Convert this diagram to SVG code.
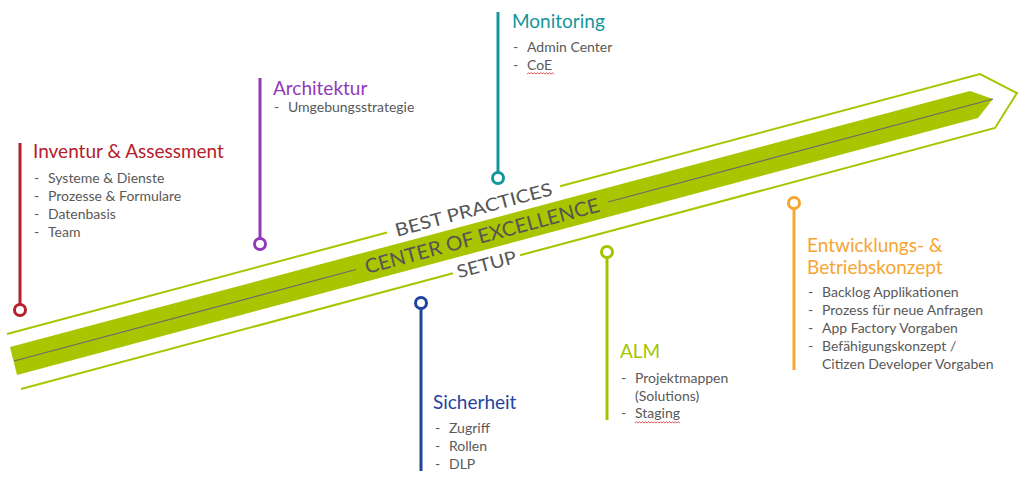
<svg xmlns="http://www.w3.org/2000/svg" width="1024" height="477" viewBox="0 0 1024 477">
<style>
.title{font-family:Lato,"Noto Sans","Liberation Sans",sans-serif;font-size:19px}
.item{font-family:Lato,"Noto Sans","Liberation Sans",sans-serif;font-size:14px;fill:#595959}
.band{font-family:Lato,"Noto Sans","Liberation Sans",sans-serif;fill:#555555;text-anchor:middle}
.stem{stroke-width:3;fill:none}
.dot{stroke-width:3;fill:#ffffff}
.squig{stroke:#e03030;stroke-width:0.8;fill:none}
</style>
<rect width="1024" height="477" fill="#ffffff"/>
<g id="band">
<polygon points="10,347 970,91 993,99 978,118 17,375" fill="#a8c500"/>
<g stroke="#a8c500" stroke-width="2" fill="none" stroke-linejoin="miter">
<path d="M7,334 L387,232.5"/>
<path d="M560,186.2 L980,74 L1017,93 L995,128 L520,255.3"/>
<path d="M453,273.3 L21,389"/>
</g>
<g stroke="#6b6b6b" stroke-width="1.2" fill="none">
<path d="M14,361 L356,269.5"/>
<path d="M608,202 L993,99"/>
</g>
<text class="band" font-size="18" transform="translate(473.5,209.4) rotate(-15)" y="6.5" textLength="162" lengthAdjust="spacingAndGlyphs">BEST PRACTICES</text>
<text class="band" font-size="20" transform="translate(482,235.8) rotate(-15)" y="7.2" textLength="242" lengthAdjust="spacingAndGlyphs">CENTER OF EXCELLENCE</text>
<text class="band" font-size="18" transform="translate(486.5,264.2) rotate(-15)" y="6.5" textLength="61" lengthAdjust="spacingAndGlyphs">SETUP</text>
</g>
<g id="connectors">
<line class="stem" x1="20" y1="143" x2="20" y2="304" stroke="#b5202a"/>
<line class="stem" x1="260" y1="78" x2="260" y2="238" stroke="#9139b8"/>
<line class="stem" x1="498" y1="12" x2="498" y2="172" stroke="#14969c"/>
<line class="stem" x1="421" y1="309" x2="421" y2="471" stroke="#1f44a0"/>
<line class="stem" x1="607" y1="258" x2="607" y2="420" stroke="#a5c400"/>
<line class="stem" x1="794" y1="209" x2="794" y2="370" stroke="#f7a531"/>
</g>
<g id="inventur">
<circle class="dot" cx="20" cy="310" r="5.5" stroke="#b5202a"/>
<text class="title" x="33" y="158" fill="#b5202a">Inventur &amp; Assessment</text>
<text class="item" x="34" y="183">-</text><text class="item" x="48" y="183">Systeme &amp; Dienste</text>
<text class="item" x="34" y="201">-</text><text class="item" x="48" y="201">Prozesse &amp; Formulare</text>
<text class="item" x="34" y="219">-</text><text class="item" x="48" y="219">Datenbasis</text>
<text class="item" x="34" y="237">-</text><text class="item" x="48" y="237">Team</text>
</g>
<g id="architektur">
<circle class="dot" cx="260" cy="244" r="5.5" stroke="#9139b8"/>
<text class="title" x="273" y="95" fill="#9139b8">Architektur</text>
<text class="item" x="274" y="112">-</text><text class="item" x="288" y="112">Umgebungsstrategie</text>
</g>
<g id="monitoring">
<circle class="dot" cx="498" cy="178" r="5.5" stroke="#14969c"/>
<text class="title" x="512" y="28" fill="#14969c">Monitoring</text>
<text class="item" x="513" y="52">-</text><text class="item" x="527" y="52">Admin Center</text>
<text class="item" x="513" y="70">-</text><text class="item" x="527" y="70">CoE</text>
<path class="squig" d="M527,74 l1.5,-1.2 l1.5,1.2 l1.5,-1.2 l1.5,1.2 l1.5,-1.2 l1.5,1.2 l1.5,-1.2 l1.5,1.2 l1.5,-1.2 l1.5,1.2 l1.5,-1.2 l1.5,1.2 l1.5,-1.2 l1.5,1.2 l1.5,-1.2 l1.5,1.2 l1.5,-1.2 l1.5,1.2"/>
</g>
<g id="sicherheit">
<circle class="dot" cx="421" cy="303" r="5.5" stroke="#1f44a0"/>
<text class="title" x="433" y="409" fill="#1f44a0">Sicherheit</text>
<text class="item" x="435" y="433">-</text><text class="item" x="449" y="433">Zugriff</text>
<text class="item" x="435" y="451">-</text><text class="item" x="449" y="451">Rollen</text>
<text class="item" x="435" y="469">-</text><text class="item" x="449" y="469">DLP</text>
</g>
<g id="alm">
<circle class="dot" cx="607" cy="252" r="5.5" stroke="#a5c400"/>
<text class="title" x="620" y="358" fill="#a5c400">ALM</text>
<text class="item" x="621" y="383">-</text><text class="item" x="635" y="383">Projektmappen</text>
<text class="item" x="635" y="401">(Solutions)</text>
<text class="item" x="621" y="418">-</text><text class="item" x="635" y="418">Staging</text>
<path class="squig" d="M635,423 l1.5,-1.2 l1.5,1.2 l1.5,-1.2 l1.5,1.2 l1.5,-1.2 l1.5,1.2 l1.5,-1.2 l1.5,1.2 l1.5,-1.2 l1.5,1.2 l1.5,-1.2 l1.5,1.2 l1.5,-1.2 l1.5,1.2 l1.5,-1.2 l1.5,1.2 l1.5,-1.2 l1.5,1.2 l1.5,-1.2 l1.5,1.2 l1.5,-1.2 l1.5,1.2 l1.5,-1.2 l1.5,1.2 l1.5,-1.2 l1.5,1.2 l1.5,-1.2 l1.5,1.2 l1.5,-1.2 l1.5,1.2"/>
</g>
<g id="entwicklung">
<circle class="dot" cx="794" cy="203" r="5.5" stroke="#f7a531"/>
<text class="title" x="807" y="252" fill="#f7a531">Entwicklungs- &amp;</text>
<text class="title" x="807" y="274" fill="#f7a531">Betriebskonzept</text>
<text class="item" x="808" y="297">-</text><text class="item" x="822" y="297">Backlog Applikationen</text>
<text class="item" x="808" y="315">-</text><text class="item" x="822" y="315">Prozess für neue Anfragen</text>
<text class="item" x="808" y="333">-</text><text class="item" x="822" y="333">App Factory Vorgaben</text>
<text class="item" x="808" y="351">-</text><text class="item" x="822" y="351">Befähigungskonzept /</text>
<text class="item" x="822" y="369">Citizen Developer Vorgaben</text>
</g>
</svg>
